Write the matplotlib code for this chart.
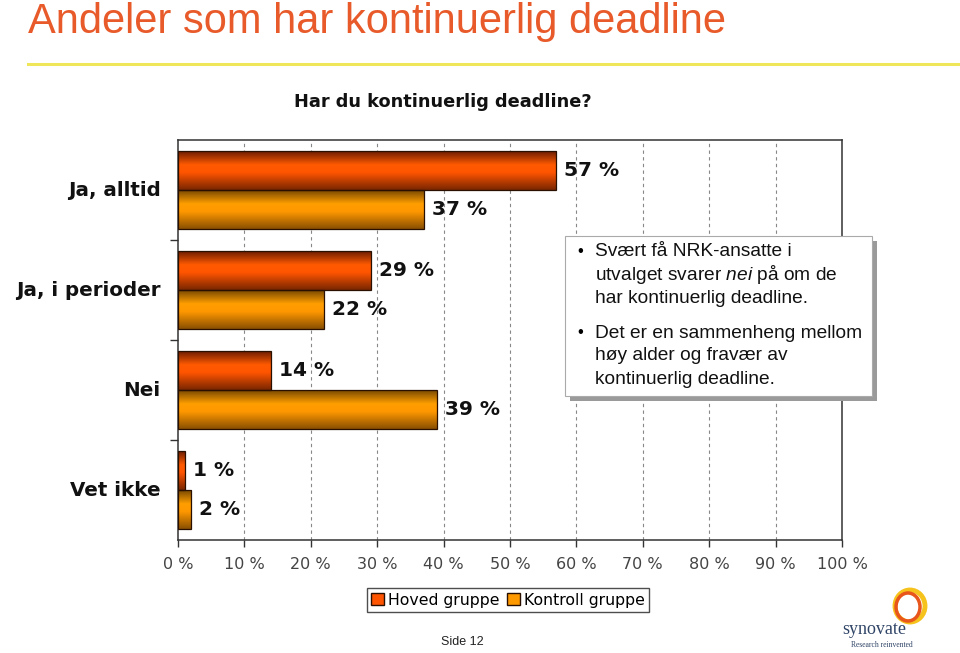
import matplotlib
matplotlib.use("Agg")
import matplotlib.pyplot as plt
import numpy as np
from matplotlib.colors import LinearSegmentedColormap
from matplotlib.patches import Rectangle, Ellipse, Patch
from matplotlib.lines import Line2D

plt.rcParams["mathtext.fontset"] = "custom"
plt.rcParams["mathtext.rm"] = "Liberation Sans"
plt.rcParams["mathtext.it"] = "Liberation Sans:italic"

categories = ["Ja, alltid", "Ja, i perioder", "Nei", "Vet ikke"]
hoved = [57, 29, 14, 1]
kontroll = [37, 22, 39, 2]
series_names = ["Hoved gruppe", "Kontroll gruppe"]
xticks = list(range(0, 101, 10))
xtick_labels = [f"{t} %" for t in xticks]

W, H = 960, 653
fig = plt.figure(figsize=(W / 100, H / 100), dpi=100)


def fx(px):
    return px / W


def fy(py):
    return 1 - py / H


# slide header
fig.text(fx(28), fy(33), "Andeler som har kontinuerlig deadline", family="Liberation Sans",
         fontsize=30, color="#E85A2A", va="baseline", ha="left")
fig.add_artist(Line2D([fx(28), 1.0], [fy(64), fy(64)], color="#EFE65A", lw=2.2))

ax = fig.add_axes([fx(178), fy(540), fx(842) - fx(178), fy(140) - fy(540)])

cmap_h = LinearSegmentedColormap.from_list(
    "h", [(0, "#6E1E00"), (0.35, "#FF5A00"), (0.55, "#FF5500"), (1, "#7A2600")])
cmap_k = LinearSegmentedColormap.from_list(
    "k", [(0, "#7A4A00"), (0.35, "#FF9E00"), (0.55, "#FF9800"), (1, "#8A5000")])

y = np.arange(len(categories)) + 0.5
bh = 0.39
grad = np.linspace(0, 1, 64).reshape(-1, 1)
for vals, off, cmap in [(hoved, -0.195, cmap_h), (kontroll, 0.195, cmap_k)]:
    bars = ax.barh(y + off, vals, height=bh, facecolor="none", edgecolor="#2a1000",
                   lw=0.9, zorder=3)
    for b, v in zip(bars, vals):
        y0 = b.get_y()
        im = ax.imshow(grad, cmap=cmap, aspect="auto", origin="upper",
                       extent=[0, v, y0 + bh, y0], zorder=2)
        im.set_clip_path(b)
        ax.text(v + 1.2, y0 + bh / 2, f"{v} %", fontsize=14.5, fontweight="bold",
                va="center", ha="left", color="#111111")

ax.set_xlim(0, 100)
ax.set_ylim(len(categories), 0)
ax.set_xticks(xticks)
ax.set_xticklabels(xtick_labels, fontsize=11.5, color="#444444")
ax.tick_params(axis="x", length=5, width=1, pad=7, color="#333333")
ax.set_yticks(range(1, len(categories)))
ax.set_yticklabels([])
ax.tick_params(axis="y", length=6, width=1, color="#333333")
for cy, c in zip(y, categories):
    ax.text(-2.6, cy, c, fontsize=14.3, fontweight="bold", ha="right", va="center",
            color="#111111")
for t in xticks[1:-1]:
    ax.axvline(t, color="#888888", lw=0.8, ls=(0, (3, 3)), zorder=1)
for s in ax.spines.values():
    s.set_color("#333333")
    s.set_linewidth(1.1)

fig.text(fx(443), fy(102), "Har du kontinuerlig deadline?", fontsize=12.8,
         fontweight="bold", ha="center", va="center", color="#111111")

handles = [Patch(facecolor="#FF5500", edgecolor="#2a1000"),
           Patch(facecolor="#FF9900", edgecolor="#2a1000")]
leg = fig.legend(handles, series_names, loc="center", bbox_to_anchor=(fx(508), fy(600)),
                 ncol=2, fontsize=11.3, frameon=True, fancybox=False, handlelength=0.8,
                 handleheight=0.8, handletextpad=0.25, columnspacing=0.5, borderpad=0.3,
                 borderaxespad=0)
leg.get_frame().set_edgecolor("#222222")
leg.get_frame().set_linewidth(1)

# comment box
bx0, by0, bx1, by1 = 565, 236, 872, 396
fig.add_artist(Rectangle((fx(bx0 + 5), fy(by1 + 5)), fx(bx1 - bx0), fy(by0) - fy(by1),
                         facecolor="#9A9A9A", edgecolor="none", zorder=4))
fig.add_artist(Rectangle((fx(bx0), fy(by1)), fx(bx1 - bx0), fy(by0) - fy(by1),
                         facecolor="white", edgecolor="#AAAAAA", lw=0.8, zorder=5))
lines = [(252, "Svært få NRK-ansatte i", True),
         (275, r"utvalget svarer $\it{nei}$ på om de", False),
         (298, "har kontinuerlig deadline.", False),
         (333, "Det er en sammenheng mellom", True),
         (355, "høy alder og fravær av", False),
         (379, "kontinuerlig deadline.", False)]
for py, txt, bullet in lines:
    if bullet:
        fig.text(fx(577), fy(py), "•", family="Liberation Sans", fontsize=12,
                 ha="left", va="center", zorder=6)
    fig.text(fx(595), fy(py), txt, family="Liberation Sans", fontsize=13.8,
             ha="left", va="center", color="#111111", zorder=6)

# footer
fig.text(fx(462), fy(642), "Side 12", family="Liberation Sans", fontsize=9,
         ha="center", va="center", color="#222222")

# logo
fig.add_artist(Ellipse((fx(910), fy(606)), fx(30), fy(0) - fy(32), facecolor="none",
                       edgecolor="#F6C21C", lw=3.5))
fig.add_artist(Ellipse((fx(908), fy(607)), fx(24), fy(0) - fy(28), facecolor="none",
                       edgecolor="#E8561C", lw=2.5))
fig.text(fx(874), fy(630), "synovate", family="Liberation Serif", fontsize=13,
         ha="center", va="center", color="#2F4466")
fig.text(fx(882), fy(645), "Research reinvented", family="Liberation Serif", fontsize=5.5,
         ha="center", va="center", color="#2F4466")

fig.savefig("out.png", dpi=100)
